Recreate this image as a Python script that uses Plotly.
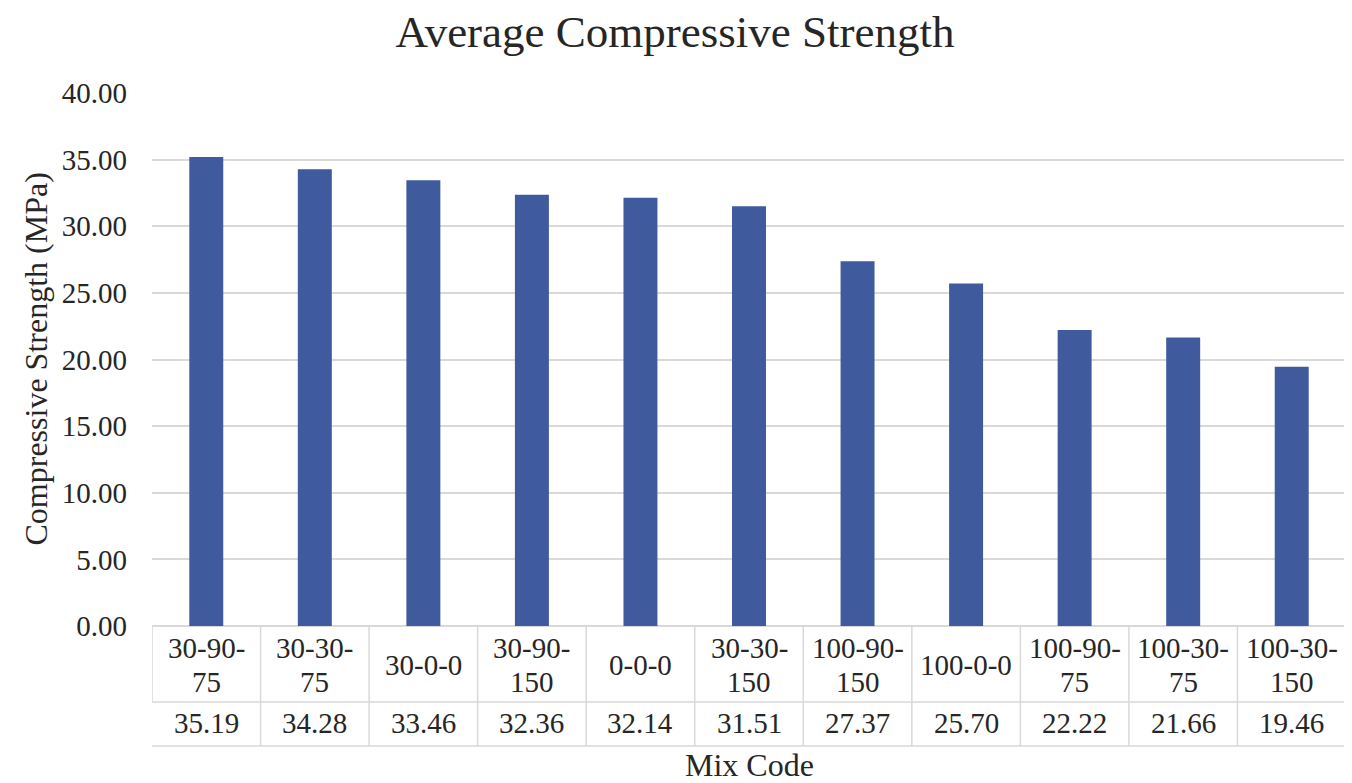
import plotly.graph_objects as go

mix_codes = ["30-90-75", "30-30-75", "30-0-0", "30-90-150", "0-0-0", "30-30-150",
             "100-90-150", "100-0-0", "100-90-75", "100-30-75", "100-30-150"]
mix_labels = [["30-90-", "75"], ["30-30-", "75"], ["30-0-0"], ["30-90-", "150"], ["0-0-0"],
              ["30-30-", "150"], ["100-90-", "150"], ["100-0-0"], ["100-90-", "75"],
              ["100-30-", "75"], ["100-30-", "150"]]
strength = [35.19, 34.28, 33.46, 32.36, 32.14, 31.51, 27.37, 25.70, 22.22, 21.66, 19.46]
y_ticks = [0, 5, 10, 15, 20, 25, 30, 35, 40]

FONT = "Liberation Serif"
TXT = "#262626"
GRID = "#D9D9D9"

OFF = 8  # page body margin
W, H = 1352 - OFF, 783 - OFF
PL, PR, PT, PB = 152, 1346, 93, 626  # plot area in page pixels
L, T = PL - OFF, PT - OFF
R = W - (PR - OFF)
B = H - (PB - OFF)
ph = PB - PT
pw = PR - PL

def py(pix):
    return -(pix - PB) / ph

n = len(mix_codes)
xs = list(range(n))

fig = go.Figure()
fig.add_trace(go.Bar(x=xs, y=strength, marker=dict(color="#3F5B9E", line=dict(width=0)),
                     hoverinfo="y"))

shapes = []
for yp in [702, 746]:
    shapes.append(dict(type="line", xref="paper", yref="paper", x0=0, x1=1,
                       y0=py(yp), y1=py(yp), line=dict(color=GRID, width=1.5)))
for i in range(n + 1):
    y_bot = 702 if i == 0 else 746
    shapes.append(dict(type="line", xref="x", yref="paper", x0=i - 0.5, x1=i - 0.5,
                       y0=0, y1=py(y_bot), line=dict(color=GRID, width=1.5)))

annotations = []
tfont = dict(family=FONT, size=29, color=TXT)
for i in range(n):
    parts = mix_labels[i]
    ys = [665] if len(parts) == 1 else [648, 682]
    for part, yy in zip(parts, ys):
        annotations.append(dict(x=xs[i], y=py(yy), xref="x", yref="paper", text=part,
                                showarrow=False, font=tfont, xanchor="center", yanchor="middle"))
    annotations.append(dict(x=xs[i], y=py(723), xref="x", yref="paper", text=f"{strength[i]:.2f}",
                            showarrow=False, font=tfont, xanchor="center", yanchor="middle"))
annotations.append(dict(x=0.5, y=py(765), xref="paper", yref="paper", text="Mix Code",
                        showarrow=False, font=dict(family=FONT, size=32, color=TXT),
                        xanchor="center", yanchor="middle"))
annotations.append(dict(x=(35 - PL) / pw, y=0.5, xref="paper", yref="paper",
                        text="Compressive Strength (MPa)", textangle=-90,
                        showarrow=False, font=dict(family=FONT, size=32, color=TXT),
                        xanchor="center", yanchor="middle"))

fig.update_layout(
    width=W, height=H,
    margin=dict(l=L, r=R, t=T, b=B, autoexpand=False),
    paper_bgcolor="white", plot_bgcolor="white",
    title=dict(text="Average Compressive Strength", x=(675 - OFF) / W, xanchor="center",
               y=1 - (31 - OFF) / H, yanchor="middle", yref="container",
               font=dict(family=FONT, size=45, color=TXT)),
    bargap=0.687,
    showlegend=False,
    shapes=shapes,
    annotations=annotations,
    xaxis=dict(range=[-0.5, n - 0.5], showticklabels=False, showgrid=False, zeroline=False,
               showline=False, ticks="", fixedrange=True),
    yaxis=dict(range=[0, 40], tickvals=y_ticks, tickformat=".2f", showgrid=True,
               gridcolor=GRID, gridwidth=1.5, zeroline=True, zerolinecolor=GRID, zerolinewidth=1.5,
               showline=False, ticks="", ticklabelstandoff=24,
               tickfont=dict(family=FONT, size=29, color=TXT), fixedrange=True),
)

fig.write_html("out.html")
